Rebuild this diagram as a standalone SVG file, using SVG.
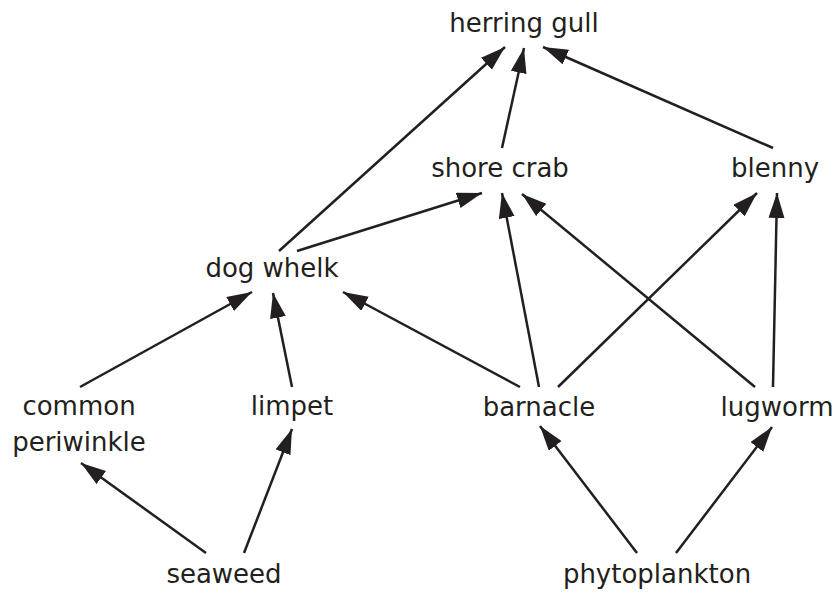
<svg xmlns="http://www.w3.org/2000/svg" width="835" height="594" viewBox="0 0 835 594">
<defs>
<style>
.lbl{font-family:"DejaVu Sans","Liberation Sans",sans-serif;font-size:26px;fill:#231f20;text-anchor:middle}
.edge{stroke:#231f20;stroke-width:2.5;fill:none;marker-end:url(#ah)}
</style>
<marker id="ah" markerUnits="userSpaceOnUse" markerWidth="26" markerHeight="17" refX="25" refY="8" orient="auto" viewBox="0 0 26 17">
<path d="M0,0 L25,8 L0,16 Z" fill="#231f20"/>
</marker>
</defs>
<rect width="835" height="594" fill="#ffffff"/>
<g id="connectors">
<line class="edge" x1="279" y1="251" x2="505" y2="47"/>
<line class="edge" x1="502" y1="148" x2="524" y2="48"/>
<line class="edge" x1="773" y1="148" x2="543" y2="47"/>
<line class="edge" x1="297" y1="251" x2="482" y2="193"/>
<line class="edge" x1="539" y1="387" x2="502" y2="193"/>
<line class="edge" x1="755" y1="387" x2="522" y2="194"/>
<line class="edge" x1="558" y1="387" x2="757" y2="193"/>
<line class="edge" x1="773" y1="387" x2="777" y2="193"/>
<line class="edge" x1="520" y1="387" x2="343" y2="292"/>
<line class="edge" x1="292" y1="387" x2="273" y2="293"/>
<line class="edge" x1="80" y1="387" x2="252" y2="292"/>
<line class="edge" x1="206" y1="553" x2="81" y2="463"/>
<line class="edge" x1="244" y1="553" x2="292" y2="429"/>
<line class="edge" x1="637" y1="553" x2="540" y2="426"/>
<line class="edge" x1="676" y1="553" x2="772" y2="427"/>
</g>
<g id="herring-gull"><text class="lbl" x="524" y="32">herring gull</text></g>
<g id="shore-crab"><text class="lbl" x="500" y="177">shore crab</text></g>
<g id="blenny"><text class="lbl" x="775" y="177">blenny</text></g>
<g id="dog-whelk"><text class="lbl" x="272" y="277">dog whelk</text></g>
<g id="common-periwinkle"><text class="lbl" x="79" y="415">common</text><text class="lbl" x="79" y="451">periwinkle</text></g>
<g id="limpet"><text class="lbl" x="292" y="415">limpet</text></g>
<g id="barnacle"><text class="lbl" x="539" y="416">barnacle</text></g>
<g id="lugworm"><text class="lbl" x="777" y="416">lugworm</text></g>
<g id="seaweed"><text class="lbl" x="224" y="583">seaweed</text></g>
<g id="phytoplankton"><text class="lbl" x="657" y="583">phytoplankton</text></g>
</svg>
